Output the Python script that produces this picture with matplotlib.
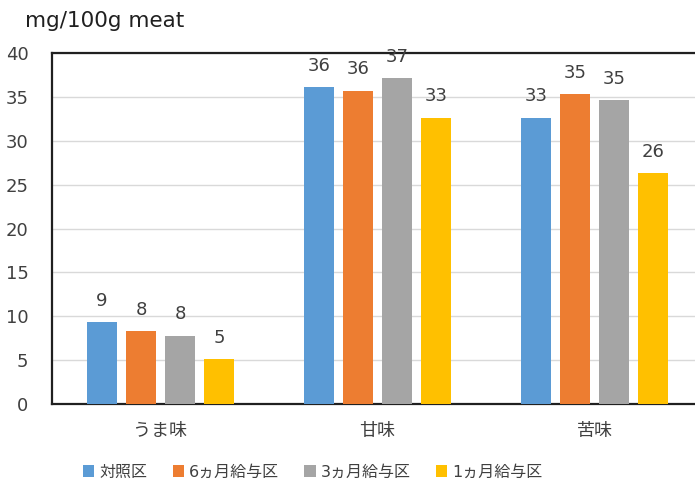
import numpy as np
import matplotlib.pyplot as plt

plt.rcParams["font.family"] = ["DejaVu Sans", "Noto Sans CJK JP"]

categories = ["うま味", "甘味", "苦味"]
series_names = ["対照区", "6ヵ月給与区", "3ヵ月給与区", "1ヵ月給与区"]
colors = ["#5B9BD5", "#ED7D31", "#A5A5A5", "#FFC000"]

control = [9.3, 36.1, 32.6]
month6 = [8.3, 35.7, 35.3]
month3 = [7.8, 37.1, 34.6]
month1 = [5.1, 32.6, 26.3]
series = [control, month6, month3, month1]

fig = plt.figure(figsize=(6.95, 4.82), dpi=100)
ax = fig.add_axes([52 / 695, 78 / 482, 651 / 695, 351 / 482])

x = np.arange(len(categories))
step = 0.18
width = 0.138
for i, (name, vals, c) in enumerate(zip(series_names, series, colors)):
    pos = x + (i - 1.5) * step
    bars = ax.bar(pos, vals, width, color=c, label=name, zorder=3)
    for b, v in zip(bars, vals):
        ax.annotate(f"{v:.0f}", (b.get_x() + b.get_width() / 2, v),
                    xytext=(0, 9), textcoords="offset points",
                    ha="center", va="bottom", fontsize=13, color="#404040")

ax.set_xlim(-0.5, 2.5)
ax.set_ylim(0, 40)
ax.set_yticks(range(0, 41, 5))
ax.set_xticks(x)
ax.set_xticklabels(categories, fontsize=13, color="#404040")
ax.tick_params(axis="y", length=0, pad=17, labelsize=13, labelcolor="#404040")
ax.tick_params(axis="x", length=0, pad=13)
ax.grid(axis="y", color="#D9D9D9", lw=1, zorder=0)

for side in ["top", "left", "bottom"]:
    ax.spines[side].set_color("#202020")
    ax.spines[side].set_linewidth(1.6)
ax.spines["right"].set_visible(False)

fig.text(25 / 695, 1 - 21 / 482, "mg/100g meat", fontsize=15.5,
         color="#202020", va="center", ha="left")

fig.legend(loc="center", bbox_to_anchor=(0.45, 1 - 472 / 482), ncol=4,
           frameon=False, fontsize=11.5, handlelength=0.7, handleheight=0.7,
           handletextpad=0.3, columnspacing=1.6, labelcolor="#404040")

fig.savefig("out.png")
